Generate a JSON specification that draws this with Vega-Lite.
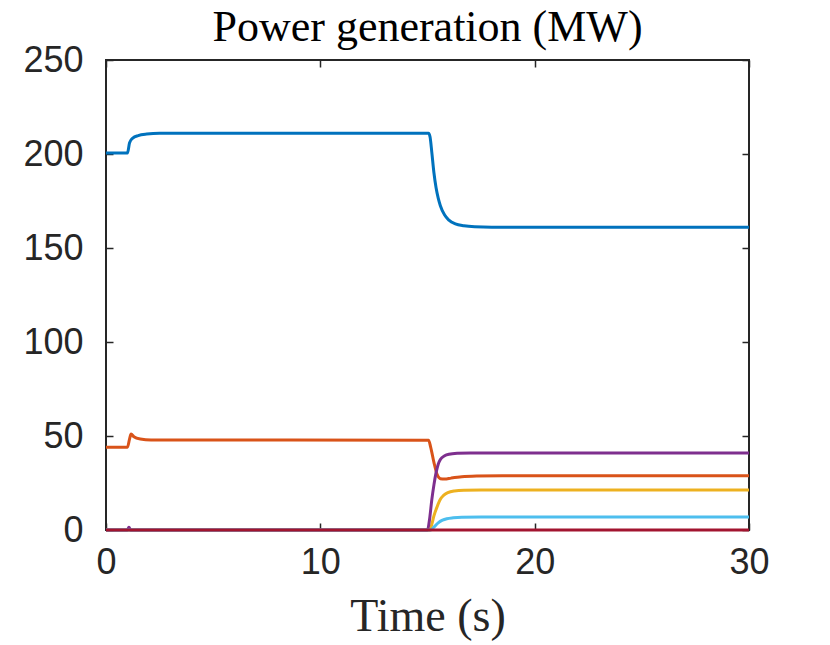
{
  "$schema": "https://vega.github.io/schema/vega-lite/v6.json",
  "width": 643,
  "height": 470,
  "autosize": {"type": "none"},
  "padding": {"left": 106, "top": 60, "right": 81, "bottom": 115},
  "title": {
    "text": "Power generation (MW)",
    "font": "Liberation Serif",
    "fontSize": 44,
    "fontWeight": "normal",
    "color": "#000000",
    "offset": -8
  },
  "config": {
    "view": {"stroke": "#262626", "strokeWidth": 2},
    "axis": {
      "domain": false,
      "grid": false,
      "tickSize": -7,
      "tickWidth": 1.5,
      "tickColor": "#262626",
      "labelFlush": false,
      "labelFont": "Liberation Sans",
      "labelFontSize": 36,
      "labelColor": "#262626",
      "titleFont": "Liberation Serif",
      "titleFontSize": 46,
      "titleFontWeight": "normal",
      "titleColor": "#262626"
    }
  },
  "data": {
    "values": [
      {"t": 0, "p": 200.5, "g": "G1"},
      {"t": 1.0, "p": 200.5, "g": "G1"},
      {"t": 1.1, "p": 206, "g": "G1"},
      {"t": 1.25, "p": 208.5, "g": "G1"},
      {"t": 1.5, "p": 209.8, "g": "G1"},
      {"t": 1.9, "p": 210.6, "g": "G1"},
      {"t": 2.5, "p": 211, "g": "G1"},
      {"t": 15.05, "p": 211, "g": "G1"},
      {"t": 15.12, "p": 209, "g": "G1"},
      {"t": 15.2, "p": 201, "g": "G1"},
      {"t": 15.3, "p": 190, "g": "G1"},
      {"t": 15.4, "p": 182, "g": "G1"},
      {"t": 15.5, "p": 176.5, "g": "G1"},
      {"t": 15.6, "p": 172.5, "g": "G1"},
      {"t": 15.8, "p": 167.5, "g": "G1"},
      {"t": 16.0, "p": 164.8, "g": "G1"},
      {"t": 16.3, "p": 162.8, "g": "G1"},
      {"t": 16.7, "p": 161.8, "g": "G1"},
      {"t": 17.2, "p": 161.3, "g": "G1"},
      {"t": 18, "p": 161.1, "g": "G1"},
      {"t": 30, "p": 161, "g": "G1"},

      {"t": 0, "p": 44, "g": "G2"},
      {"t": 1.0, "p": 44, "g": "G2"},
      {"t": 1.1, "p": 48.5, "g": "G2"},
      {"t": 1.17, "p": 51, "g": "G2"},
      {"t": 1.3, "p": 49.6, "g": "G2"},
      {"t": 1.6, "p": 48.4, "g": "G2"},
      {"t": 2.1, "p": 47.9, "g": "G2"},
      {"t": 15.05, "p": 47.8, "g": "G2"},
      {"t": 15.15, "p": 44, "g": "G2"},
      {"t": 15.3, "p": 36, "g": "G2"},
      {"t": 15.45, "p": 29.5, "g": "G2"},
      {"t": 15.6, "p": 27.3, "g": "G2"},
      {"t": 15.8, "p": 27.1, "g": "G2"},
      {"t": 16.1, "p": 27.6, "g": "G2"},
      {"t": 16.6, "p": 28.3, "g": "G2"},
      {"t": 17.3, "p": 28.7, "g": "G2"},
      {"t": 18.5, "p": 28.9, "g": "G2"},
      {"t": 30, "p": 28.9, "g": "G2"},

      {"t": 0, "p": 0, "g": "G3"},
      {"t": 15.1, "p": 0, "g": "G3"},
      {"t": 15.2, "p": 3, "g": "G3"},
      {"t": 15.3, "p": 7.5, "g": "G3"},
      {"t": 15.45, "p": 12.4, "g": "G3"},
      {"t": 15.6, "p": 16.3, "g": "G3"},
      {"t": 15.75, "p": 18.4, "g": "G3"},
      {"t": 15.95, "p": 19.9, "g": "G3"},
      {"t": 16.25, "p": 20.8, "g": "G3"},
      {"t": 16.7, "p": 21.2, "g": "G3"},
      {"t": 17.5, "p": 21.3, "g": "G3"},
      {"t": 30, "p": 21.3, "g": "G3"},

      {"t": 0, "p": 0, "g": "G4"},
      {"t": 1.0, "p": 0, "g": "G4"},
      {"t": 1.07, "p": 1.5, "g": "G4"},
      {"t": 1.15, "p": 0, "g": "G4"},
      {"t": 15.0, "p": 0, "g": "G4"},
      {"t": 15.1, "p": 6, "g": "G4"},
      {"t": 15.2, "p": 16, "g": "G4"},
      {"t": 15.3, "p": 24, "g": "G4"},
      {"t": 15.4, "p": 30.5, "g": "G4"},
      {"t": 15.5, "p": 35, "g": "G4"},
      {"t": 15.6, "p": 37.5, "g": "G4"},
      {"t": 15.8, "p": 39.5, "g": "G4"},
      {"t": 16.0, "p": 40.3, "g": "G4"},
      {"t": 16.4, "p": 40.8, "g": "G4"},
      {"t": 17, "p": 41, "g": "G4"},
      {"t": 30, "p": 41, "g": "G4"},

      {"t": 0, "p": 0, "g": "G6"},
      {"t": 15.15, "p": 0, "g": "G6"},
      {"t": 15.3, "p": 1.5, "g": "G6"},
      {"t": 15.5, "p": 3.8, "g": "G6"},
      {"t": 15.7, "p": 5.2, "g": "G6"},
      {"t": 15.9, "p": 6, "g": "G6"},
      {"t": 16.2, "p": 6.5, "g": "G6"},
      {"t": 16.6, "p": 6.8, "g": "G6"},
      {"t": 17.5, "p": 6.9, "g": "G6"},
      {"t": 30, "p": 6.9, "g": "G6"},

      {"t": 0, "p": 0, "g": "G7"},
      {"t": 30, "p": 0, "g": "G7"}
    ]
  },
  "layer": [
    {
      "mark": {"type": "line", "strokeWidth": 3, "interpolate": "monotone"},
      "encoding": {
        "x": {
          "field": "t",
          "type": "quantitative",
          "scale": {"domain": [0, 30], "nice": false},
          "axis": {"orient": "bottom", "values": [0, 10, 20, 30], "labelPadding": 22, "title": "Time (s)", "titlePadding": 14}
        },
        "y": {
          "field": "p",
          "type": "quantitative",
          "scale": {"domain": [0, 250], "nice": false},
          "axis": {"orient": "left", "values": [0, 50, 100, 150, 200, 250], "labelPadding": 30, "title": null}
        },
        "color": {
          "field": "g",
          "type": "nominal",
          "legend": null,
          "scale": {
            "domain": ["G1", "G2", "G3", "G4", "G6", "G7"],
            "range": ["#0072BD", "#D95319", "#EDB120", "#7E2F8E", "#4DBEEE", "#A2142F"]
          }
        }
      }
    },
    {
      "mark": {"type": "line", "opacity": 0},
      "encoding": {
        "x": {
          "field": "t",
          "type": "quantitative",
          "axis": {"orient": "top", "values": [0, 10, 20, 30], "labels": false, "title": null}
        },
        "y": {
          "field": "p",
          "type": "quantitative",
          "axis": {"orient": "right", "values": [0, 50, 100, 150, 200, 250], "labels": false, "title": null}
        },
        "detail": {"field": "g", "type": "nominal"}
      }
    }
  ],
  "resolve": {"axis": {"x": "independent", "y": "independent"}}
}
